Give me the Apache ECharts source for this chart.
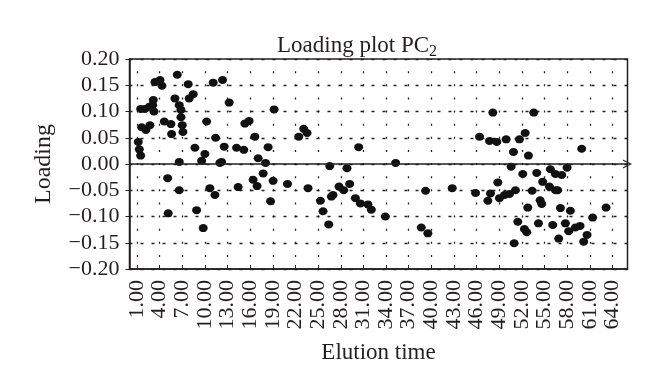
<!DOCTYPE html>
<html><head><meta charset="utf-8">
<script src="https://cdn.jsdelivr.net/npm/echarts@6/dist/echarts.min.js"></script>
<style>html,body{margin:0;padding:0;background:#fff}#c{width:660px;height:389px}</style>
</head><body><div id="c"></div>
<script>
// Elution time (x) and loading (y) of each point
const elutionTime = [6.33,3.37,4.04,4.30,7.78,11.09,12.33,6.02,7.91,8.44,6.59,6.82,3.15,1.48,2.05,2.62,3.07,3.24,13.21,19.16,6.82,4.61,5.49,6.99,7.08,10.22,1.61,2.18,2.71,5.58,15.29,15.85,11.41,16.61,22.43,1.16,1.30,1.48,8.67,9.99,12.55,14.19,15.15,18.37,6.59,9.56,11.98,12.20,17.05,18.03,5.06,6.59,10.65,11.32,14.40,16.38,16.91,17.71,19.03,20.94,18.69,5.13,8.89,9.77,
23.09,23.53,30.37,35.27,26.54,28.82,23.66,27.77,28.39,29.18,26.76,26.97,25.30,25.65,26.40,29.94,30.60,31.60,32.05,33.91,39.24,38.67,39.54,42.77,
48.15,53.57,46.39,47.71,48.68,49.92,51.68,52.44,50.89,52.87,59.93,50.58,52.12,53.97,55.78,56.45,57.28,57.99,48.81,45.86,47.84,47.49,49.03,49.70,50.36,51.15,53.36,54.76,55.65,56.45,56.75,54.42,54.63,52.78,57.11,58.43,63.16,61.38,51.46,52.34,52.65,54.20,56.09,57.77,58.21,59.09,59.71,60.64,60.19,56.88,50.98];
const loading = [0.170,0.156,0.160,0.149,0.152,0.155,0.160,0.125,0.125,0.133,0.112,0.103,0.122,0.105,0.105,0.109,0.112,0.100,0.117,0.104,0.089,0.081,0.076,0.074,0.061,0.081,0.070,0.065,0.074,0.057,0.077,0.082,0.050,0.052,0.052,0.042,0.028,0.016,0.031,0.019,0.033,0.031,0.027,0.032,0.004,0.006,0.002,0.004,0.011,0.002,-0.027,-0.050,-0.046,-0.059,-0.044,-0.030,-0.042,-0.018,-0.032,-0.038,-0.071,-0.094,-0.088,-0.122,
0.067,0.059,0.032,0.002,-0.004,-0.008,-0.046,-0.043,-0.050,-0.038,-0.062,-0.059,-0.070,-0.090,-0.115,-0.065,-0.075,-0.077,-0.087,-0.100,-0.051,-0.121,-0.132,-0.046,
0.098,0.098,0.052,0.044,0.042,0.047,0.047,0.059,0.023,0.016,0.029,-0.005,-0.019,-0.017,-0.010,-0.019,-0.021,-0.007,-0.035,-0.055,-0.056,-0.070,-0.065,-0.059,-0.057,-0.050,-0.051,-0.034,-0.043,-0.050,-0.050,-0.069,-0.076,-0.083,-0.084,-0.089,-0.083,-0.102,-0.110,-0.124,-0.130,-0.113,-0.116,-0.113,-0.128,-0.121,-0.118,-0.135,-0.148,-0.142,-0.151];
const xTickLabels = ['1.00','4.00','7.00','10.00','13.00','16.00','19.00','22.00','25.00','28.00','31.00','34.00','37.00','40.00','43.00','46.00','49.00','52.00','55.00','58.00','61.00','64.00'];
const xRange = [0, 66];
const yRange = [-0.20, 0.20];
const yStep = 0.05;

const xCategories = [];
for (let i = xRange[0]; i <= xRange[1]; i++) xCategories.push(i.toFixed(2));
const points = elutionTime.map((t, i) => [t, loading[i]]);

const FONT = 'Liberation Serif';
const INK = '#231f20';
const chart = echarts.init(document.getElementById('c'), null, {renderer: 'canvas'});
chart.setOption({
  animation: false,
  backgroundColor: '#fff',
  title: {
    text: '{a|Loading plot PC}{s|2}',
    left: 272, top: 27,
    textStyle: {
      fontWeight: 'normal',
      rich: {
        a: {fontFamily: FONT, fontSize: 23, fontWeight: 'normal', color: INK},
        s: {fontFamily: FONT, fontSize: 16, fontWeight: 'normal', color: INK, padding: [12, 0, 0, 0]}
      }
    }
  },
  grid: {left: 129.5, right: 32.5, top: 59, bottom: 120, show: true, borderColor: INK, borderWidth: 1.5, backgroundColor: 'transparent'},
  xAxis: [
    {type: 'value', min: xRange[0], max: xRange[1], show: false, position: 'bottom', axisLine: {onZero: false}},
    {type: 'category', data: xCategories, boundaryGap: false, position: 'bottom',
      axisLine: {onZero: false, lineStyle: {color: INK, width: 1.5}},
      axisTick: {show: true, inside: true, length: 4, interval: (i, v) => xTickLabels.includes(v), lineStyle: {color: INK}},
      axisLabel: {interval: (i, v) => xTickLabels.includes(v), rotate: 90, margin: 11, fontFamily: FONT, fontSize: 22, color: INK},
      splitLine: {show: true, interval: (i, v) => xTickLabels.includes(v), lineStyle: {color: '#222', width: 1.3, type: [2, 11.125], dashOffset: 1}},
      name: 'Elution time', nameLocation: 'middle', nameGap: 72,
      nameTextStyle: {fontFamily: FONT, fontSize: 23, color: INK}
    }
  ],
  yAxis: {
    type: 'value', min: yRange[0], max: yRange[1], interval: yStep,
    axisLine: {show: true, onZero: false, lineStyle: {color: INK, width: 1.5}},
    axisTick: {show: true, length: 4, lineStyle: {color: INK}},
    axisLabel: {margin: 10, fontFamily: FONT, fontSize: 22, color: INK,
      formatter: v => (v < -1e-9 ? '\u2212' : '') + Math.abs(v).toFixed(2)},
    splitLine: {show: true, lineStyle: {color: '#222', width: 1.3, type: [3, 8]}},
    name: 'Loading', nameLocation: 'middle', nameGap: 74,
    nameTextStyle: {fontFamily: FONT, fontSize: 24, color: INK}
  },
  series: [{
    type: 'scatter', xAxisIndex: 0, yAxisIndex: 0,
    data: points, symbol: 'circle', symbolSize: [9, 8],
    itemStyle: {color: '#111', opacity: 1},
    markLine: {
      silent: true, symbol: ['none', 'path://M0,10 L5,0 L10,10 L8.6,10 L5,2.8 L1.4,10 Z'], symbolSize: [9, 9],
      label: {show: false},
      lineStyle: {color: INK, width: 1.5, type: 'solid'},
      data: [{yAxis: 0}]
    }
  }]
});
</script></body></html>
